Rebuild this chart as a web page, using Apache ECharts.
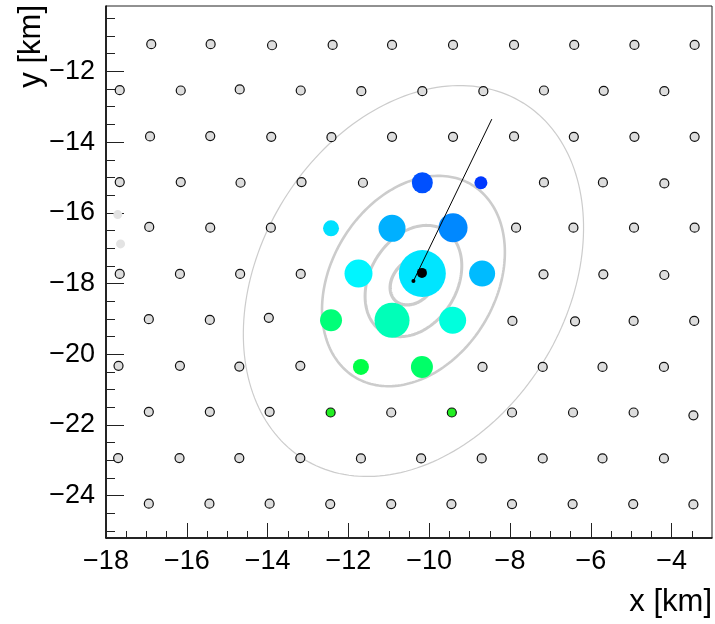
<!DOCTYPE html>
<html lang="en">
<head>
<meta charset="UTF-8">
<title>footprint</title>
<script src="https://cdn.jsdelivr.net/npm/echarts@6.0.0/dist/echarts.min.js"></script>
<style>
html, body { margin: 0; padding: 0; background: #fff; }
#main { width: 715px; height: 624px; }
</style>
</head>
<body>
<div id="main"></div>
<script>
// stations without signal (km)
var stationX = [
  -16.88, -15.41, -13.89, -12.39, -10.92, -9.41, -7.90, -6.41, -4.92, -3.43,
  -17.66, -16.15, -14.69, -13.18, -11.68, -10.17, -8.66, -7.16, -5.68, -4.18,
  -16.91, -15.42, -13.91, -12.42, -10.92, -9.41, -7.90, -6.42, -4.92, -3.43,
  -17.66, -16.15, -14.67, -13.16, -11.64, -7.16, -5.70, -4.18,
  -16.93, -15.42, -13.92, -7.85, -6.43, -4.93, -3.43,
  -17.66, -16.17, -14.68, -13.18, -7.17, -5.69, -4.18,
  -16.94, -15.43, -13.97, -7.94, -6.39, -4.94, -3.44,
  -17.69, -16.17, -14.70, -13.19, -8.68, -7.19, -5.71, -4.19,
  -16.94, -15.43, -13.95, -10.94, -7.95, -6.44, -4.94, -3.46,
  -17.70, -16.18, -14.70, -13.19, -11.69, -10.20, -8.70, -7.19, -5.71, -4.19,
  -16.94, -15.44, -13.95, -12.45, -10.94, -9.45, -7.95, -6.45, -4.95, -3.46
];
var stationY = [
  -11.23, -11.23, -11.26, -11.25, -11.25, -11.25, -11.25, -11.25, -11.25, -11.25,
  -12.53, -12.54, -12.51, -12.54, -12.56, -12.56, -12.56, -12.54, -12.55, -12.56,
  -13.84, -13.83, -13.85, -13.86, -13.85, -13.85, -13.84, -13.85, -13.85, -13.85,
  -15.13, -15.13, -15.15, -15.13, -15.15, -15.14, -15.14, -15.17,
  -16.40, -16.42, -16.42, -16.42, -16.42, -16.42, -16.42,
  -17.73, -17.73, -17.73, -17.73, -17.74, -17.74, -17.76,
  -19.01, -19.03, -18.97, -19.06, -19.07, -19.06, -19.06,
  -20.33, -20.33, -20.35, -20.33, -20.36, -20.36, -20.36, -20.36,
  -21.63, -21.63, -21.63, -21.65, -21.65, -21.65, -21.65, -21.73,
  -22.94, -22.94, -22.94, -22.94, -22.95, -22.95, -22.95, -22.95, -22.95, -22.95,
  -24.23, -24.23, -24.23, -24.24, -24.24, -24.24, -24.24, -24.24, -24.24, -24.25
];

// silent stations at the left edge
var silentX = [-17.71, -17.64];
var silentY = [-16.05, -16.88];

// stations with signal: position, signal (arb. units), relative time (0 early .. 1 late)
var hitX = [-10.17, -8.72, -12.43, -10.92, -9.41, -11.75, -10.17, -8.69, -12.43, -10.92, -9.42, -11.69, -10.18];
var hitY = [-15.15, -15.15, -16.44, -16.44, -16.42, -17.72, -17.72, -17.72, -19.04, -19.04, -19.04, -20.36, -20.36];
var hitSignal = [27.6, 10.6, 16, 45.6, 52.6, 49, 138, 42.3, 30.3, 76.6, 45.6, 16, 30.3];
var hitTime = [0.063, 0.011, 0.377, 0.272, 0.185, 0.422, 0.388, 0.296, 0.739, 0.599, 0.519, 0.844, 0.773];

// low-threshold stations
var lowX = [-12.44, -9.44];
var lowY = [-21.65, -21.65];

// cores and shower axis
var recCore = [-10.39, -17.93];
var mcCore = [-10.18, -17.70];
var axisEnd = [-8.45, -13.35];

// contour ellipses around the reconstructed core
var ellipseA = [5.76, 3.10, 1.64, 0.72];
var ellipseB = [3.89, 2.09, 1.105, 0.52];
var ellipseAngle = [67.7, 67.7, 67.7, 60];

// ticks
var xMajorTicks = [-18, -16, -14, -12, -10, -8, -6, -4];
var yMajorTicks = [-24, -22, -20, -18, -16, -14, -12];
var xMinorTicks = [], yMinorTicks = [];
for (var v = -17.5; v <= -3.5; v += 0.5) if (v % 2 !== 0) xMinorTicks.push(v);
for (var w = -25; w <= -10.5; w += 0.5) if (w % 2 !== 0) yMinorTicks.push(w);

var ellipseWidth = [1.2, 2.6, 3, 3.3];
var font = 'Liberation Sans, Arial, Helvetica, sans-serif';

function minus(val) {
  return val < 0 ? '\u2212' + Math.abs(val) : String(val);
}
function timeColor(t) {
  return 'hsl(' + (228 - 108 * t).toFixed(1) + ', 100%, 50%)';
}
function zip(xs, ys) {
  return xs.map(function (x, i) { return [x, ys[i]]; });
}

var myChart = echarts.init(document.getElementById('main'));

var option = {
  animation: false,
  backgroundColor: '#fff',
  grid: {
    left: 106, right: 3, top: 6, bottom: 86,
    outerBoundsMode: 'none',
    show: true, borderColor: '#222', borderWidth: 1
  },
  xAxis: [
    {
      type: 'value', min: -18, max: -3,
      axisLine: { show: true, onZero: false, lineStyle: { color: '#000', width: 1.5 } },
      axisTick: { show: true, inside: true, length: 15, customValues: xMajorTicks, lineStyle: { color: '#222', width: 1 } },
      axisLabel: { customValues: xMajorTicks, formatter: minus, fontSize: 27, color: '#000', fontFamily: font, margin: 10 },
      splitLine: { show: false }
    },
    {
      type: 'value', min: -18, max: -3, position: 'bottom',
      axisLine: { show: false },
      axisTick: { show: true, inside: true, length: 7, customValues: xMinorTicks, lineStyle: { color: '#222', width: 1 } },
      axisLabel: { show: false },
      splitLine: { show: false }
    }
  ],
  yAxis: [
    {
      type: 'value', min: -25.2, max: -10.15,
      axisLine: { show: true, onZero: false, lineStyle: { color: '#000', width: 1.5 } },
      axisTick: { show: true, inside: true, length: 18, customValues: yMajorTicks, lineStyle: { color: '#222', width: 1 } },
      axisLabel: { customValues: yMajorTicks, formatter: minus, fontSize: 27, color: '#000', fontFamily: font, margin: 11 },
      splitLine: { show: false }
    },
    {
      type: 'value', min: -25.2, max: -10.15, position: 'left',
      axisLine: { show: false },
      axisTick: { show: true, inside: true, length: 9, customValues: yMinorTicks, lineStyle: { color: '#222', width: 1 } },
      axisLabel: { show: false },
      splitLine: { show: false }
    }
  ],
  graphic: [
    { type: 'text', right: 3, top: 587, style: { text: 'x [km]', font: '31px ' + font, fill: '#000' } },
    { type: 'text', x: 31, y: 5, rotation: Math.PI / 2,
      style: { text: 'y [km]', font: '31px ' + font, fill: '#000', align: 'right', verticalAlign: 'middle' } }
  ],
  series: [
    {
      type: 'custom',
      silent: true,
      z: 1,
      data: ellipseA.map(function (a, i) { return [recCore[0], recCore[1], i]; }),
      renderItem: function (params, api) {
        var i = params.dataIndex;
        var a = ellipseA[i], b = ellipseB[i], th = ellipseAngle[i] * Math.PI / 180;
        var pts = [];
        for (var k = 0; k < 200; k++) {
          var t = 2 * Math.PI * k / 200;
          var x = recCore[0] + a * Math.cos(th) * Math.cos(t) - b * Math.sin(th) * Math.sin(t);
          var y = recCore[1] + a * Math.sin(th) * Math.cos(t) + b * Math.cos(th) * Math.sin(t);
          pts.push(api.coord([x, y]));
        }
        return {
          type: 'polygon',
          shape: { points: pts },
          style: { fill: 'none', stroke: '#cccccc', lineWidth: ellipseWidth[i] }
        };
      }
    },
    {
      type: 'scatter', z: 2, silent: true,
      data: zip(stationX, stationY),
      symbol: 'circle', symbolSize: 9,
      itemStyle: { color: '#dddddd', borderColor: '#111', borderWidth: 1.2, opacity: 1 }
    },
    {
      type: 'scatter', z: 2, silent: true,
      data: zip(silentX, silentY),
      symbol: 'circle', symbolSize: 9,
      itemStyle: { color: '#e3e3e3', opacity: 1 }
    },
    {
      type: 'scatter', z: 3, silent: true,
      data: hitX.map(function (x, i) { return [x, hitY[i], hitSignal[i], hitTime[i]]; }),
      symbol: 'circle',
      symbolSize: function (d) { return 4 * Math.sqrt(d[2]); },
      itemStyle: {
        opacity: 1,
        color: function (p) { return timeColor(p.data[3]); }
      }
    },
    {
      type: 'scatter', z: 3, silent: true,
      data: zip(lowX, lowY),
      symbol: 'circle', symbolSize: 9,
      itemStyle: { color: '#22ee22', borderColor: '#111', borderWidth: 1.2, opacity: 1 }
    },
    {
      type: 'line', z: 4, silent: true,
      data: [recCore, axisEnd],
      symbol: 'none',
      lineStyle: { color: '#000', width: 1 }
    },
    {
      type: 'scatter', z: 5, silent: true,
      data: [mcCore],
      symbol: 'circle', symbolSize: 10,
      itemStyle: { color: '#000', opacity: 1 }
    },
    {
      type: 'scatter', z: 5, silent: true,
      data: [recCore],
      symbol: 'circle', symbolSize: 4,
      itemStyle: { color: '#000', opacity: 1 }
    }
  ]
};

myChart.setOption(option);
</script>
</body>
</html>
